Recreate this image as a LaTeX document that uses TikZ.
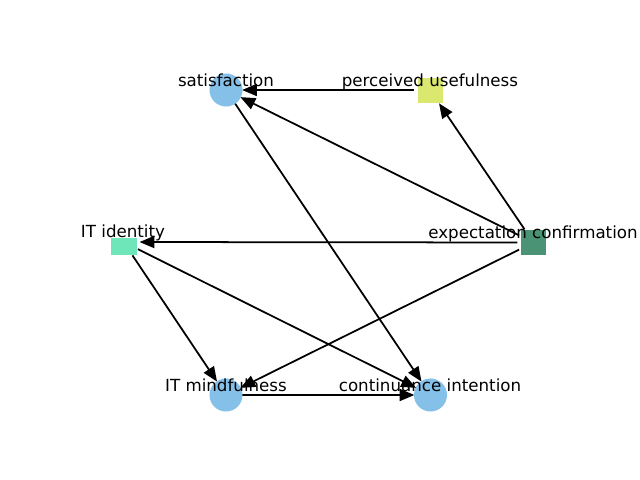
\documentclass[tikz,border=0pt]{standalone}
\usepackage{fontspec}
\setmainfont{DejaVu Sans}
\usetikzlibrary{arrows.meta}
\definecolor{nblue}{RGB}{133,192,232}
\definecolor{nlime}{RGB}{219,232,112}
\definecolor{nmint}{RGB}{110,230,186}
\definecolor{ndark}{RGB}{74,147,117}
\begin{document}
\begin{tikzpicture}[x=0.025cm,y=-0.025cm,
  anchorpt/.style={circle,minimum size=0.79cm,inner sep=0pt,draw=none},
  edge/.style={draw=black,line width=1.25pt,-{Triangle[length=0.37cm,width=0.3cm]}},
  circ/.style={circle,minimum size=0.825cm,inner sep=0pt,fill=nblue},
  sq/.style={rectangle,minimum size=0.625cm,inner sep=0pt},
  lbl/.style={anchor=base,inner sep=0pt,font=\fontsize{11.86}{14}\selectfont}]
\useasboundingbox[fill=white] (0,0) rectangle (640,480);
% anchor nodes for connectors
\node[anchorpt] (sat) at (226,90) {};
\node[anchorpt] (pu) at (430,90) {};
\node[anchorpt] (iti) at (123.5,242) {};
\node[anchorpt] (ec) at (533.5,242.5) {};
\node[anchorpt] (itm) at (226,395) {};
\node[anchorpt] (ci) at (430.5,395) {};
% connectors
\draw[edge] (pu) -- (sat);
\draw[edge] (ec) -- (pu);
\draw[edge] (ec) -- (sat);
\draw[edge] (ec) -- (iti);
\draw[edge] (ec) -- (itm);
\draw[edge] (sat) -- (ci);
\draw[edge] (iti) -- (itm);
\draw[edge] (iti) -- (ci);
\draw[edge] (itm) -- (ci);
% markers
\node[circ] (satm) at (226,90) {};
\node[sq,fill=nlime] (pum) at (430.5,90.5) {};
\node[rectangle,inner sep=0pt,minimum width=0.65cm,minimum height=0.425cm,fill=nmint] (itim) at (124,246.5) {};
\node[sq,fill=ndark] (ecm) at (533.5,242.5) {};
\node[circ] (itmm) at (226,395) {};
\node[circ] (cim) at (430.5,395) {};
% labels
\node[lbl] (satl) at (226,86) {satisfaction};
\node[lbl] (pul) at (430,86) {perceived usefulness};
\node[lbl] (itil) at (123,237.5) {IT identity};
\node[lbl] (ecl) at (533,238) {expectation confirmation};
\node[lbl] (itml) at (226,391) {IT mindfulness};
\node[lbl] (cil) at (430,391) {continuance intention};
\end{tikzpicture}
\end{document}
